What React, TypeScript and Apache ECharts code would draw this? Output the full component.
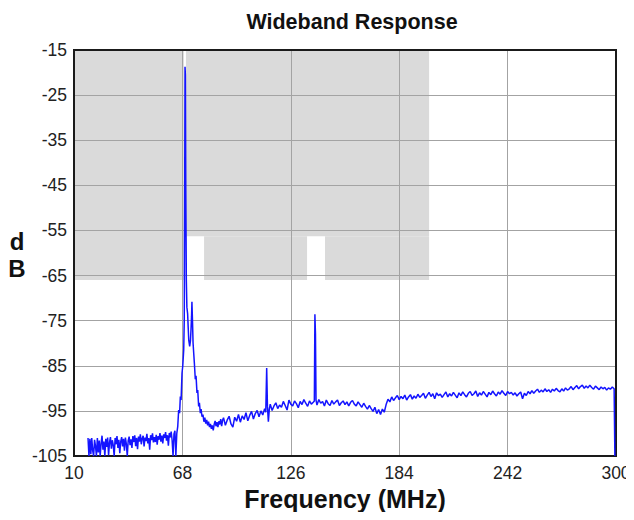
import React, { useEffect, useRef } from "react";
import * as echarts from "echarts";

const titleText = "Wideband Response";
const xAxisTitle = "Frequency (MHz)";
const yAxisTitleLines = ["d", "B"];

const xTicks = [10, 68, 126, 184, 242, 300];
const yTicks = [-105, -95, -85, -75, -65, -55, -45, -35, -25, -15];

// Limit mask: [fromMHz, toMHz, lowDb, highDb]
const maskRegions: [number, number, number, number][] = [
  [10, 68.8, -66, -15],
  [69.9, 200, -56.3, -15],
  [69.9, 70.2, -66, -56.3],
  [79.6, 134.7, -66, -56.3],
  [144.3, 200, -66, -56.3],
];

// Measured trace: [MHz, dB]
const noiseFloor: [number, number][] = [
  [17.5, -101.0], [18.0, -105.0], [18.5, -101.2], [19.0, -104.6], [19.5, -101.0],
  [20.0, -103.8], [20.5, -105.0], [21.0, -101.4], [21.5, -102.8], [22.0, -105.0],
  [22.5, -101.0], [23.0, -104.2], [23.5, -101.6], [24.0, -105.0], [24.5, -102.2],
  [25.0, -100.5], [25.5, -103.6], [26.0, -101.8], [26.5, -105.0], [27.0, -101.2],
  [27.5, -103.0], [28.0, -100.9], [28.5, -104.8], [29.0, -102.0], [29.5, -100.8],
  [30.0, -103.4], [30.5, -101.5], [31.0, -102.6], [31.5, -105.0], [32.0, -101.0],
  [32.5, -102.4], [33.0, -100.6], [33.5, -103.2], [34.0, -101.4], [34.5, -104.4],
  [35.0, -101.8], [35.5, -100.8], [36.0, -102.9], [36.5, -101.2], [37.0, -103.8],
  [37.5, -100.9], [38.0, -102.3], [38.5, -105.0], [39.0, -101.6], [39.5, -100.7],
  [40.0, -102.6], [40.5, -101.3], [41.0, -103.2], [41.5, -100.6], [42.0, -101.9],
  [42.5, -100.4], [43.0, -102.8], [43.5, -101.0], [44.0, -103.5], [44.5, -100.7],
  [45.0, -101.8], [45.5, -100.2], [46.0, -102.4], [46.5, -101.1], [47.0, -100.5],
  [47.5, -102.9], [48.0, -100.9], [48.5, -101.7], [49.0, -100.1], [49.5, -102.2],
  [50.0, -101.0], [50.5, -103.6], [51.0, -100.4], [51.5, -101.5], [52.0, -100.0],
  [52.5, -102.0], [53.0, -100.8], [53.5, -101.9], [54.0, -100.3], [54.5, -102.5],
  [55.0, -100.6], [55.5, -101.4], [56.0, -99.9], [56.5, -101.8], [57.0, -100.5],
  [57.5, -102.2], [58.0, -100.2], [58.5, -101.0], [59.0, -99.7], [59.5, -101.6],
  [60.0, -100.4], [60.5, -102.7], [61.0, -99.9], [61.5, -100.9], [62.0, -99.6],
  [62.5, -101.5], [63.0, -105.0], [63.5, -100.1], [64.0, -99.4], [64.5, -105.0],
  [65.0, -100.0], [65.5, -98.5],
];

const mainPeak: [number, number][] = [
  [66.0, -94.8], [66.5, -95.5], [66.9, -91.8], [67.3, -92.6], [67.8, -86.6],
  [68.2, -85.0], [68.7, -81.5], [69.0, -74.8], [69.2, -50.0], [69.4, -18.7],
  [69.6, -20.5], [69.8, -45.0], [70.1, -66.0], [70.4, -72.0], [70.8, -73.5],
  [71.1, -76.5], [71.4, -79.3], [71.9, -80.7], [72.3, -79.5], [72.6, -77.0],
  [72.9, -74.0], [73.1, -70.8], [73.4, -75.0], [73.7, -79.9], [74.1, -82.5],
  [74.4, -84.4], [74.9, -88.0], [75.3, -87.2], [75.8, -91.0], [76.2, -90.4],
  [76.7, -94.0], [77.1, -93.2], [77.6, -95.5], [78.0, -94.6], [78.5, -96.3],
  [79.0, -95.8], [79.5, -97.4], [80.0, -96.5], [80.5, -97.8], [81.0, -97.0],
  [81.5, -98.2], [82.0, -97.4], [82.5, -98.6], [83.0, -97.9], [83.5, -99.0],
  [84.0, -98.2], [84.5, -99.3], [85.0, -98.0], [85.5, -97.2], [86.0, -98.4],
  [86.5, -97.5], [87.0, -98.6], [87.5, -97.3], [88.0, -98.0],
];

const midBand: [number, number][] = [
  [88.5, -96.8], [89.0, -98.4], [89.5, -97.1], [90, -96.5], [91, -98.2],
  [92, -97.0], [93, -96.2], [94, -97.9], [95, -98.6], [96, -96.4],
  [97, -97.3], [98, -95.8], [99, -97.5], [100, -96.1], [101, -96.9],
  [102, -95.4], [103, -97.2], [104, -96.0], [105, -95.1], [106, -96.8],
  [107, -95.6], [108, -94.9], [109, -96.3], [110, -95.0], [111, -95.9],
  [112, -94.5], [112.6, -95.3], [113.1, -85.5], [113.5, -94.0], [114.0, -97.4],
  [114.5, -94.6], [115, -93.5], [116, -94.9], [117, -93.9], [118, -93.2],
  [119, -94.5], [120, -93.7], [121, -94.2], [122, -92.9], [123, -93.8],
  [124, -94.8], [125, -92.6], [126, -93.5], [127, -93.9], [128, -92.8],
  [129, -93.4], [130, -94.3], [131, -92.9], [132, -93.6], [133, -92.5],
  [134, -93.3], [135, -94.0], [136, -92.8], [137, -93.5], [138, -93.1],
  [138.6, -92.8], [138.9, -73.6], [139.2, -78.0], [139.5, -92.6], [140, -93.7],
  [141, -92.5], [142, -93.3], [143, -92.9], [144, -93.9], [145, -92.6],
  [146, -93.4], [147, -93.8], [148, -92.7], [149, -93.5], [150, -93.0],
  [151, -92.6], [152, -93.8], [153, -93.2], [154, -92.8], [155, -93.6],
  [156, -93.0], [157, -93.9], [158, -93.1], [159, -92.7], [160, -93.5],
  [161, -93.9], [162, -93.0], [163, -93.6], [164, -94.2], [165, -93.3],
  [166, -94.0], [167, -94.6], [168, -93.8], [169, -94.5], [170, -95.1],
  [171, -94.2], [172, -95.6], [173, -94.7], [174, -95.8], [175, -94.6],
  [176, -95.3], [177, -93.6], [178, -92.4], [179, -93.0], [180, -91.9],
  [181, -92.7], [182, -92.1], [183, -91.6], [184, -92.5], [185, -91.8],
  [186, -92.3], [187, -91.5], [188, -92.6], [189, -91.9], [190, -91.4],
  [191, -92.4], [192, -91.7], [193, -92.2], [194, -91.3], [195, -92.0],
];

const upperBand: [number, number][] = [
  [196, -91.6], [197, -91.1], [198, -92.2], [199, -91.5], [200, -90.9],
  [201, -91.8], [202, -91.2], [203, -92.3], [204, -91.0], [205, -91.6],
  [206, -91.3], [207, -92.0], [208, -91.4], [209, -90.8], [210, -91.9],
  [211, -91.2], [212, -91.7], [213, -90.9], [214, -91.5], [215, -92.1],
  [216, -91.0], [217, -91.6], [218, -90.8], [219, -91.4], [220, -91.9],
  [221, -91.1], [222, -90.7], [223, -91.6], [224, -91.2], [225, -90.6],
  [226, -91.8], [227, -91.0], [228, -91.5], [229, -90.7], [230, -91.3],
  [231, -91.9], [232, -90.9], [233, -91.4], [234, -90.6], [235, -91.2],
  [236, -91.7], [237, -90.8], [238, -91.3], [239, -90.5], [240, -91.1],
  [241, -91.6], [242, -90.7], [243, -91.2], [244, -90.9], [245, -91.5],
  [246, -91.0], [247, -91.7], [248, -91.2], [249, -90.8], [250, -92.3],
  [251, -91.1], [252, -91.6], [253, -90.7], [254, -91.2], [255, -90.5],
  [256, -91.1], [257, -90.6], [258, -90.2], [259, -90.9], [260, -90.4],
  [261, -90.8], [262, -90.1], [263, -90.7], [264, -90.3], [265, -90.9],
  [266, -90.2], [267, -90.6], [268, -90.0], [269, -90.5], [270, -90.8],
  [271, -90.1], [272, -90.6], [273, -89.9], [274, -90.4], [275, -90.1],
  [276, -89.6], [277, -90.3], [278, -89.8], [279, -89.4], [280, -90.1],
  [281, -89.6], [282, -89.3], [283, -90.0], [284, -89.5], [285, -89.9],
  [286, -89.3], [287, -89.8], [288, -90.2], [289, -89.5], [290, -89.9],
  [291, -90.3], [292, -89.7], [293, -90.1], [294, -89.8], [295, -90.4],
  [296, -89.9], [297, -90.2], [298, -89.7], [299, -90.1], [299.4, -105.0],
];

export default function App() {
  const ref = useRef<HTMLDivElement>(null);

  useEffect(() => {
    if (!ref.current) return;
    const chart = echarts.init(ref.current, undefined, { renderer: "svg" });

    // Shift axes so that min is a multiple of interval.
    const x0 = xTicks[0];
    const y0 = yTicks[0];
    const xStep = xTicks[1] - xTicks[0];
    const yStep = yTicks[1] - yTicks[0];
    const xMax = xTicks[xTicks.length - 1] - x0;
    const yMax = yTicks[yTicks.length - 1] - y0;

    const trace = [...noiseFloor, ...mainPeak, ...midBand, ...upperBand].map(
      ([f, d]) => [f - x0, d - y0]
    );
    const mask = maskRegions.map(([a, b, lo, hi]) => [a - x0, b - x0, lo - y0, hi - y0]);

    const font = "'Liberation Sans', Arial, Helvetica, sans-serif";

    chart.setOption({
      animation: false,
      backgroundColor: "#ffffff",
      title: {
        text: titleText,
        left: 347,
        top: 6,
        textAlign: "center",
        textStyle: { fontFamily: font, fontSize: 21.5, fontWeight: "bold", color: "#111" },
      },
      grid: {
        left: 74,
        right: 18,
        top: 50,
        bottom: 64,
        show: true,
        borderColor: "#1a1a1a",
        borderWidth: 2,
        z: 4,
      },
      xAxis: {
        type: "value",
        min: 0,
        max: xMax,
        interval: xStep,
        z: 3,
        name: xAxisTitle,
        nameLocation: "middle",
        nameGap: 26,
        nameTextStyle: { fontFamily: font, fontSize: 25, fontWeight: "bold", color: "#111" },
        axisLine: { show: false },
        axisTick: { show: false },
        axisLabel: {
          margin: 8,
          fontFamily: font,
          fontSize: 17.5,
          color: "#222",
          formatter: (v: number) => String(Math.round(v + x0)),
        },
        splitLine: { show: true, lineStyle: { color: "#a3a3a3", width: 1 } },
      },
      yAxis: {
        type: "value",
        min: 0,
        max: yMax,
        interval: yStep,
        z: 3,
        axisLine: { show: false },
        axisTick: { show: false },
        axisLabel: {
          margin: 7,
          fontFamily: font,
          fontSize: 17.5,
          color: "#222",
          formatter: (v: number) => String(Math.round(v + y0)),
        },
        splitLine: { show: true, lineStyle: { color: "#a3a3a3", width: 1 } },
      },
      graphic: yAxisTitleLines.map((t, i) => ({
        type: "text",
        x: 17,
        y: 241 + i * 27,
        style: {
          text: t,
          fontFamily: font,
          fontSize: 24,
          fontWeight: "bold",
          fill: "#111",
          align: "center",
          verticalAlign: "middle",
        },
      })),
      series: [
        {
          type: "custom",
          name: "mask",
          z: 1,
          silent: true,
          data: mask,
          encode: { x: [0, 1], y: [2, 3] },
          renderItem: (_params: any, api: any) => {
            const p0 = api.coord([api.value(0), api.value(3)]);
            const p1 = api.coord([api.value(1), api.value(2)]);
            return {
              type: "rect",
              shape: { x: p0[0], y: p0[1], width: p1[0] - p0[0], height: p1[1] - p0[1] },
              style: { fill: "#dadada" },
            };
          },
        },
        {
          type: "line",
          name: "response",
          z: 5,
          data: trace,
          showSymbol: false,
          symbol: "none",
          silent: true,
          lineStyle: { color: "#1414ff", width: 1.5 },
        },
      ],
    });

    return () => chart.dispose();
  }, []);

  return <div ref={ref} style={{ width: 634, height: 520, margin: -8 }} />;
}
